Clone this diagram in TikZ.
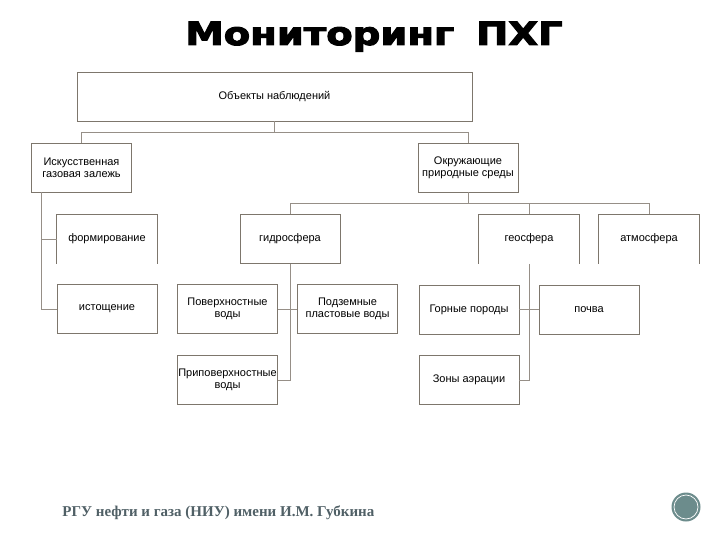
\documentclass[tikz,border=0pt]{standalone}
\usepackage{fontspec}
\setmainfont{Liberation Sans}
\newfontfamily\titlefont{DejaVu Sans}[BoldFeatures={FakeBold=3}]
\newfontfamily\footfont{Liberation Serif}
\definecolor{boxgray}{RGB}{125,118,108}
\definecolor{linkgray}{RGB}{150,143,135}
\definecolor{footblue}{RGB}{80,96,102}
\definecolor{dotteal}{RGB}{108,140,140}
\begin{document}
\begin{tikzpicture}[x=1pt, y=-1pt, line width=0.8pt,
  unit/.style={draw=boxgray, minimum width=100pt, minimum height=49pt,
    inner sep=0pt, align=center, font=\fontsize{11}{12}\selectfont},
  openunit/.style={unit, draw=none},
  link/.style={draw=linkgray}]
  \useasboundingbox (0,0) rectangle (720,540);
  % title and footer
  \node[font=\titlefont\bfseries\fontsize{32}{34}\selectfont, xscale=1.205, transform shape,
    anchor=base] (title) at (374,45) {Мониторинг\hspace{0.22em} ПХГ};
  \node[font=\footfont\bfseries\fontsize{15}{17}\selectfont, text=footblue, anchor=base west,
    inner sep=0pt] (foot) at (62,516) {РГУ нефти и газа (НИУ) имени И.М. Губкина};
  \fill[dotteal] (686,507) circle (14.5);
  \draw[white, line width=0.7pt] (686,507) circle (12);
  % boxes
  \node[unit, minimum width=395pt] (obj) at (274.5,96.5) {Объекты наблюдений};
  \node[unit] (art) at (81.5,167.5) {Искусственная\\газовая залежь};
  \node[unit] (env) at (468,167.5) {Окружающие\\природные среды};
  \node[openunit] (form) at (107,239) {формирование};
  \node[unit] (exh) at (107,309) {истощение};
  \node[unit] (hydro) at (290,239) {гидросфера};
  \node[openunit] (geo) at (529,239) {геосфера};
  \node[openunit] (atm) at (649,239) {атмосфера};
  \node[unit] (surf) at (227.5,309) {Поверхностные\\воды};
  \node[unit] (under) at (347.5,309) {Подземные\\пластовые воды};
  \node[unit] (near) at (227.5,380) {Приповерхностные\\воды};
  \node[unit] (rock) at (469,309.5) {Горные породы};
  \node[unit] (soil) at (589,309.5) {почва};
  \node[unit] (aer) at (469,380) {Зоны аэрации};
  \foreach \n in {form,geo,atm}
    \draw[boxgray] (\n.south west) -- (\n.north west) -- (\n.north east) -- (\n.south east);
  % connectors
  \draw[link] (obj.south) -- ++(0,11) coordinate (objbus) -| (art.north);
  \draw[link] (objbus) -| (env.north);
  \coordinate (artstem) at ([xshift=10pt]art.south west);
  \draw[link] (artstem) |- (form.west);
  \draw[link] (artstem) |- (exh.west);
  \draw[link] (env.south) -- ++(0,11) coordinate (envbus) -| (hydro.north);
  \draw[link] (envbus) -| (geo.north);
  \draw[link] (envbus) -| (atm.north);
  \draw[link] (hydro.south) |- (near.east);
  \draw[link] (surf.east) -- (under.west);
  \draw[link] (geo.south) |- (aer.east);
  \draw[link] (rock.east) -- (soil.west);
\end{tikzpicture}
\end{document}
